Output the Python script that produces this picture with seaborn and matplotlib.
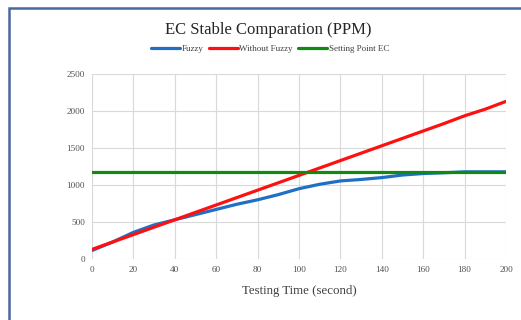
import matplotlib
matplotlib.use("Agg")
import matplotlib.pyplot as plt
import seaborn as sns
import pandas as pd
from matplotlib.patches import Rectangle
from matplotlib.lines import Line2D

time_s = [0, 10, 20, 30, 40, 50, 60, 70, 80, 90, 100, 110, 120, 130, 140, 150, 160, 170, 180, 190, 200]
fuzzy = [115, 230, 360, 460, 530, 600, 670, 740, 800, 870, 950, 1010, 1055, 1075, 1100, 1135, 1155, 1165, 1178, 1178, 1178]
without_fuzzy = [130, 230, 330, 430, 530, 630, 730, 830, 930, 1030, 1130, 1230, 1330, 1430, 1530, 1630, 1730, 1830, 1935, 2025, 2130]
setting_point = [1180] * len(time_s)
series_names = ["Fuzzy", "Without Fuzzy", "Setting Point EC"]
x_ticks = [0, 20, 40, 60, 80, 100, 120, 140, 160, 180, 200]
y_ticks = [0, 500, 1000, 1500, 2000, 2500]

df = pd.concat([
    pd.DataFrame({"t": time_s, "v": fuzzy, "s": series_names[0]}),
    pd.DataFrame({"t": time_s, "v": without_fuzzy, "s": series_names[1]}),
    pd.DataFrame({"t": time_s, "v": setting_point, "s": series_names[2]}),
])

sns.set_style("white")
plt.rcParams["font.family"] = ["Liberation Serif", "DejaVu Serif"]

fig = plt.figure(figsize=(5.21, 3.2), dpi=100)
ax = fig.add_axes([92 / 521, 61 / 320, 414 / 521, 185 / 320])

palette = {"Fuzzy": "#1f6fc4", "Without Fuzzy": "#ff1010", "Setting Point EC": "#108a10"}
sns.lineplot(data=df, x="t", y="v", hue="s", palette=palette, linewidth=2.3,
             ax=ax, legend=False, sort=False)

ax.set_xlim(0, 200)
ax.set_ylim(0, 2500)
ax.set_xticks(x_ticks)
ax.set_yticks(y_ticks)
ax.grid(True, color="#d9d9d9", linewidth=0.8)
ax.set_axisbelow(True)
for sp in ax.spines.values():
    sp.set_visible(False)
ax.tick_params(axis="both", length=0, labelsize=6.6, labelcolor="#505050", pad=5)
ax.set_xlabel("Testing Time (second)", fontsize=9.3, color="#404040", labelpad=8)
ax.set_ylabel("")

fig.text(268 / 521, 1 - 30 / 320, "EC Stable Comparation (PPM)", ha="center", va="center",
         fontsize=12, color="#262626")

handles = [Line2D([0], [0], color=palette[n], linewidth=2.3) for n in series_names]
fig.legend(handles, series_names, loc="center", bbox_to_anchor=(270 / 521, 1 - 49 / 320),
           ncol=3, frameon=False, fontsize=6.5, handlelength=3.2, handletextpad=0.2,
           columnspacing=0.6, labelcolor="#404040")

fig.patches.append(Rectangle((9 / 521, -0.1), 1.2, 1 - 8 / 320 + 0.1, transform=fig.transFigure,
                             fill=False, edgecolor="#4a67a1", linewidth=1.8))

fig.savefig("out.png", dpi=100)
